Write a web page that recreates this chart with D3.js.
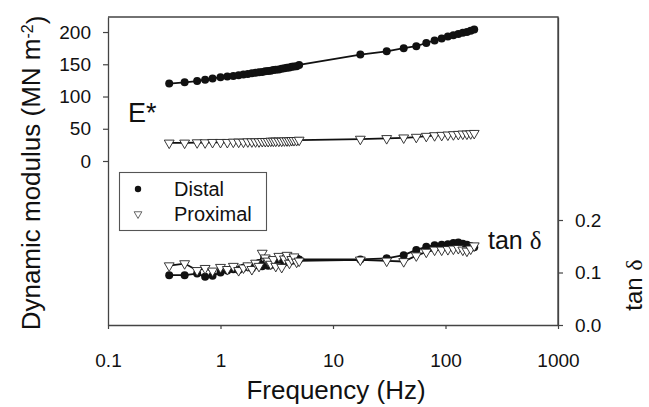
<!DOCTYPE html>
<html>
<head>
<meta charset="utf-8">
<script src="https://cdn.jsdelivr.net/npm/d3@7"></script>
<style>
  body { margin: 0; background: #fff; }
  svg { display: block; font-family: "Liberation Sans", Arial, sans-serif; }
</style>
</head>
<body>
<div id="chart"></div>
<script>
// frequencies (Hz) shared by all four series
const freq = [0.35, 0.48, 0.62, 0.73, 0.85, 1.0, 1.15, 1.3, 1.45, 1.6, 1.75, 1.9, 2.05, 2.2, 2.35,
	2.5, 2.65, 2.8, 2.95, 3.1, 3.3, 3.5, 3.7, 3.9, 4.1, 4.3, 4.5, 4.75, 5.0,
	17.5, 30, 42.5, 55, 67.5, 80, 92.5, 105, 117.5, 130, 142.5, 155, 167.5, 180];

// E* (MN m-2)
const distalE = [120, 122, 124, 126, 128, 130, 131, 132, 133, 134, 135, 136, 137, 137.5, 138,
	139, 139.5, 140, 141, 141.5, 142, 143, 144, 144.5, 145, 146, 146.5, 147, 149,
	165, 170, 175, 178, 183, 187, 190, 193, 195, 197, 199, 200, 202, 204];
const proximalE = [28, 28, 28.5, 28.5, 29, 29, 29, 29.5, 29.5, 29.5, 30, 30, 30, 30, 30.5,
	30.5, 30.5, 31, 31, 31, 31, 31, 31.5, 31.5, 31.5, 32, 32, 32, 32.5,
	34, 35, 36, 37, 38.5, 39.5, 40, 40.5, 41, 41.5, 42, 42, 42.5, 43];

// tan delta
const distalTan = [0.095, 0.095, 0.098, 0.092, 0.094, 0.100, 0.104, 0.106, 0.105, 0.109, 0.111, 0.108, 0.114, 0.118, 0.112,
	0.116, 0.113, 0.118, 0.115, 0.120, 0.117, 0.121, 0.119, 0.124, 0.122, 0.126, 0.123, 0.127, 0.125,
	0.125, 0.127, 0.133, 0.143, 0.149, 0.152, 0.153, 0.154, 0.156, 0.157, 0.155, 0.153, 0.150, 0.148];
const proximalTan = [0.113, 0.117, 0.104, 0.108, 0.103, 0.110, 0.106, 0.112, 0.104, 0.109, 0.113, 0.106, 0.118, 0.112, 0.137,
	0.128, 0.122, 0.116, 0.125, 0.112, 0.131, 0.110, 0.126, 0.133, 0.118, 0.125, 0.130, 0.120, 0.122,
	0.124, 0.122, 0.121, 0.132, 0.139, 0.143, 0.143, 0.144, 0.145, 0.146, 0.143, 0.141, 0.145, 0.151];

const xTicks = [0.1, 1, 10, 100, 1000];
const xTickLabels = ["0.1", "1", "10", "100", "1000"];
const leftTicks = [0, 50, 100, 150, 200];
const rightTicks = [0, 0.1, 0.2];

// chart dimensions
const width = 649;
const height = 407;
const plotLeft = 108;
const plotRight = 558;
const plotTop = 17;
const plotBottom = 325;
const axisColor = "#444";

const x = d3.scaleLog([0.1, 1000], [plotLeft, plotRight]);
const yE = d3.scaleLinear([-254.3, 223.3], [plotBottom, plotTop]);
const yTan = d3.scaleLinear([0, 0.5867], [plotBottom, plotTop]);

const svg = d3.select("#chart").append("svg")
	.attr("width", width)
	.attr("height", height)
	.attr("viewBox", [0, 0, width, height]);

// frame (top + right edges)
svg.append("path")
	.attr("d", `M${plotLeft},${plotTop}H${plotRight}V${plotBottom}`)
	.attr("fill", "none")
	.attr("stroke", axisColor)
	.attr("stroke-width", 1.3);

function styleAxis(g) {
	g.select(".domain").attr("stroke", axisColor).attr("stroke-width", 1.3);
	g.selectAll(".tick line").attr("stroke", axisColor).attr("stroke-width", 1.2);
	g.selectAll(".tick text").attr("fill", "#111").style("font-size", "19px");
}

// bottom axis
svg.append("g")
	.attr("transform", `translate(0,${plotBottom})`)
	.call(d3.axisBottom(x).tickValues(xTicks)
		.tickFormat((d, i) => xTickLabels[i])
		.tickSize(4).tickPadding(25).tickSizeOuter(0))
	.call(styleAxis);

// left axis: line spans whole frame, ticks only 0..200
svg.append("g")
	.attr("transform", `translate(${plotLeft},0)`)
	.call(d3.axisLeft(yE).tickValues(leftTicks)
		.tickSize(5).tickPadding(12).tickSizeOuter(0))
	.call(styleAxis);

// right axis
svg.append("g")
	.attr("transform", `translate(${plotRight},0)`)
	.call(d3.axisRight(yTan).tickValues(rightTicks)
		.tickFormat(d3.format(".1f"))
		.tickSize(5).tickPadding(12).tickSizeOuter(0))
	.call(styleAxis);

// series
const series = [
	{ y: yE, vals: distalE, kind: "dot" },
	{ y: yE, vals: proximalE, kind: "tri" },
	{ y: yTan, vals: distalTan, kind: "dot" },
	{ y: yTan, vals: proximalTan, kind: "tri" }
];

const tri = d3.symbol(d3.symbolTriangle, 42);

series.forEach(s => {
	const pts = freq.map((f, i) => [f, s.vals[i]]);
	const line = d3.line().x(d => x(d[0])).y(d => s.y(d[1]));

	svg.append("path")
		.datum(pts)
		.attr("fill", "none")
		.attr("stroke", "#111")
		.attr("stroke-width", 1.8)
		.attr("d", line);

	if (s.kind === "dot") {
		svg.append("g").selectAll("circle")
			.data(pts)
			.join("circle")
			.attr("cx", d => x(d[0]))
			.attr("cy", d => s.y(d[1]))
			.attr("r", 4)
			.attr("fill", "#111");
	} else {
		svg.append("g").selectAll("path")
			.data(pts)
			.join("path")
			.attr("d", tri)
			.attr("transform", d => `translate(${x(d[0])},${s.y(d[1])}) rotate(180)`)
			.attr("fill", "#fff")
			.attr("stroke", "#222")
			.attr("stroke-width", 0.9);
	}
});

// in-plot labels
svg.append("text")
	.attr("x", 128)
	.attr("y", 122)
	.attr("fill", "#111")
	.style("font-size", "27px")
	.text("E*");

const tanLabel = svg.append("text")
	.attr("x", 488)
	.attr("y", 249)
	.attr("fill", "#111")
	.style("font-size", "25px");
tanLabel.append("tspan").text("tan ");
tanLabel.append("tspan").style("font-family", "Liberation Serif, serif").text("δ");

// legend
const legend = svg.append("g");
legend.append("rect")
	.attr("x", 119.5).attr("y", 172.5)
	.attr("width", 147).attr("height", 58)
	.attr("fill", "#fff")
	.attr("stroke", "#555")
	.attr("stroke-width", 1.1);
legend.append("circle")
	.attr("cx", 138).attr("cy", 189).attr("r", 3.2)
	.attr("fill", "#111");
legend.append("path")
	.attr("d", d3.symbol(d3.symbolTriangle, 26)())
	.attr("transform", "translate(138,214) rotate(180)")
	.attr("fill", "#fff")
	.attr("stroke", "#555")
	.attr("stroke-width", 0.9);
legend.append("text")
	.attr("x", 174).attr("y", 196)
	.attr("fill", "#111")
	.style("font-size", "20px")
	.text("Distal");
legend.append("text")
	.attr("x", 174).attr("y", 221)
	.attr("fill", "#111")
	.style("font-size", "20px")
	.text("Proximal");

// axis titles
svg.append("text")
	.attr("x", 336)
	.attr("y", 399)
	.attr("text-anchor", "middle")
	.attr("fill", "#111")
	.style("font-size", "26px")
	.text("Frequency (Hz)");

const yTitle = svg.append("text")
	.attr("transform", "translate(40,173) rotate(-90)")
	.attr("text-anchor", "middle")
	.attr("fill", "#111")
	.style("font-size", "26px");
yTitle.append("tspan").text("Dynamic modulus (MN m");
yTitle.append("tspan").attr("dy", "-0.45em").style("font-size", "16px").text("-2");
yTitle.append("tspan").attr("dy", "0.45em").text(")");

const rTitle = svg.append("text")
	.attr("transform", "translate(642,285) rotate(-90)")
	.attr("text-anchor", "middle")
	.attr("fill", "#111")
	.style("font-size", "24px");
rTitle.append("tspan").text("tan ");
rTitle.append("tspan").style("font-family", "Liberation Serif, serif").text("δ");
</script>
</body>
</html>
